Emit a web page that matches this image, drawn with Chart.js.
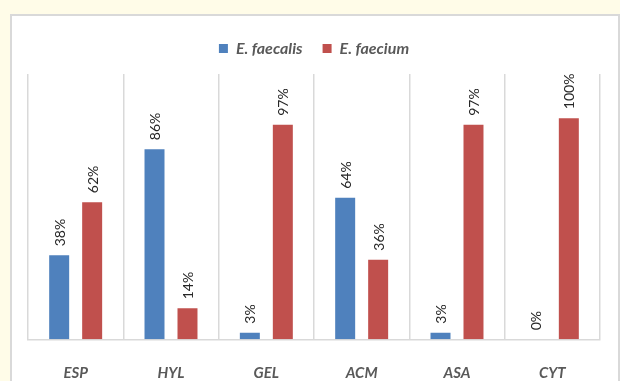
<!DOCTYPE html>
<html>
<head>
<meta charset="utf-8">
<script src="https://cdn.jsdelivr.net/npm/chart.js@4.4.1/dist/chart.umd.min.js"></script>
<style>
  html, body { margin: 0; padding: 0; background: #fffce8; }
  body { width: 620px; height: 381px; position: relative; overflow: hidden; }
  #frame {
    position: absolute; left: 10px; top: 14px;
    width: 606px; height: 400px;
    background: #ffffff; border: 2px solid #d9d9d9;
  }
  #c { position: absolute; left: 0; top: 0; }
</style>
</head>
<body>
<div id="frame"></div>
<canvas id="c" width="620" height="381"></canvas>
<script>
// Virulence genes and the share of isolates carrying each one (%)
const genes = ['ESP', 'HYL', 'GEL', 'ACM', 'ASA', 'CYT'];
const faecalis = [38, 86, 3, 64, 3, 0];
const faecium = [62, 14, 97, 36, 97, 100];
const seriesNames = ['E. faecalis', 'E. faecium'];

const gridGray = '#d9d9d9';
const textGray = '#595959';

// Rotated percentage labels above each bar
const barValueLabels = {
  id: 'barValueLabels',
  afterDatasetsDraw(chart) {
    const ctx = chart.ctx;
    ctx.save();
    ctx.font = '14px Lato, "Liberation Sans", sans-serif';
    ctx.fillStyle = '#262626';
    ctx.textAlign = 'left';
    ctx.textBaseline = 'middle';
    chart.data.datasets.forEach((ds, di) => {
      const meta = chart.getDatasetMeta(di);
      meta.data.forEach((bar, i) => {
        ctx.save();
        ctx.translate(bar.x + 1, bar.y - 9);
        ctx.rotate(-Math.PI / 2);
        ctx.fillText(ds.data[i] + '%', 0, 0);
        ctx.restore();
      });
    });
    ctx.restore();
  }
};

// Pin the legend band so the plot starts just below it
const legendBand = {
  id: 'legendBand',
  beforeLayout(chart) {
    const lg = chart.legend;
    if (lg && !lg._bandFixed) {
      const fit = lg.fit.bind(lg);
      lg.fit = function () { fit(); this.height = 53.5; };
      lg._bandFixed = true;
    }
  }
};

new Chart(document.getElementById('c'), {
  type: 'bar',
  data: {
    labels: genes,
    datasets: [
      { label: seriesNames[0], data: faecalis, backgroundColor: '#4f81bd' },
      { label: seriesNames[1], data: faecium, backgroundColor: '#c0504d' }
    ]
  },
  options: {
    responsive: false,
    animation: false,
    devicePixelRatio: 1,
    layout: { padding: { top: 20.5, left: 28, right: 20, bottom: 0 } },
    datasets: {
      bar: { categoryPercentage: 0.692, barPercentage: 0.606 }
    },
    plugins: {
      legend: {
        position: 'top',
        labels: {
          boxWidth: 9,
          boxHeight: 9,
          padding: 20,
          color: textGray,
          font: { family: 'Lato, "Liberation Sans", sans-serif', size: 16, style: 'italic', weight: 'bold' }
        }
      },
      tooltip: { enabled: false }
    },
    scales: {
      x: {
        grid: { offset: true, color: gridGray, lineWidth: 1.5, drawTicks: false },
        border: { color: gridGray, width: 1.5 },
        ticks: {
          padding: 25,
          color: textGray,
          font: { family: 'Lato, "Liberation Sans", sans-serif', size: 15, style: 'italic', weight: 'bold' }
        },
        afterFit(scale) { scale.height = 41.7; }
      },
      y: {
        display: false,
        min: 0,
        max: 120
      }
    }
  },
  plugins: [barValueLabels, legendBand]
});
</script>
</body>
</html>
